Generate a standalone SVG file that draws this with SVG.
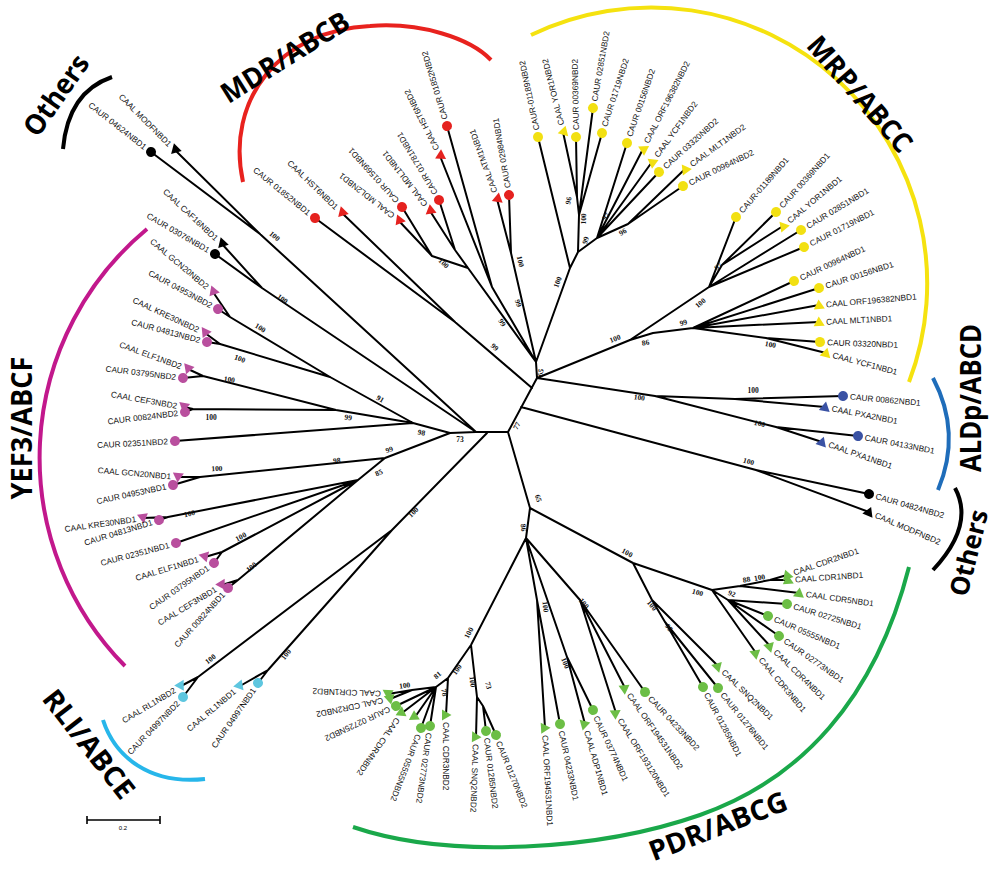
<svg xmlns="http://www.w3.org/2000/svg" xmlns:xlink="http://www.w3.org/1999/xlink" width="1000" height="870" viewBox="0 0 1000 870">
<defs>
<polygon id="tu" points="0,-5.5 5.5,4 -5.5,4"/>
<polygon id="td" points="0,5.5 5.5,-4 -5.5,-4"/>
<style>
.br{fill:none;stroke:#000;stroke-width:2;stroke-linecap:round;stroke-linejoin:round}
.lf text{font-family:"Liberation Sans",Arial,sans-serif;font-size:8.3px;fill:#111}
.fl text{text-anchor:end}
.k{fill:#000}.red{fill:#e5221f}.yel{fill:#f2e012}.blu{fill:#3a52a4}.grn{fill:#6cbe45}.mag{fill:#b94f9e}.cya{fill:#5ec6df}
.bs{font-family:"Liberation Serif","Times New Roman",serif;font-size:7.5px;font-weight:bold;fill:#111;text-anchor:middle}
.grp{font-family:"Open Sans","Liberation Sans",sans-serif;font-weight:bold;font-size:28px;fill:#000;text-anchor:middle}
.arc{fill:none;stroke-width:4}
</style>
</defs>
<rect width="1000" height="870" fill="#fff"/>
<g id="connectors">
<path class="br" d="M508,432 L476,432 L450,433 M508,432 L537,378 L536,362 M508,432 L530,508
M476,432 L260,234 L151,152 M260,234 L175,150
M476,432 L262,288 L222,244 M262,288 L215,254
M450,433 L413,423 L175,441 M413,423 L336,410 L203,376 L188,369 M203,376 L183,378 M336,410 L193,409 L184,407 M193,409 L185,412
M413,423 L330,377 L230,317 L213,292 M230,317 L218,309 M330,377 L220,344 L205,333 M220,344 L207,342
M450,433 L385,458 L200,477 L178,477 M200,477 L173,485 M385,458 L358,480 L168,517 L143,518 M168,517 L159,520 M358,480 L176,543 M358,480 L222,552 L205,557 M222,552 L214,563 M358,480 L238,580 L222,585 M238,580 L228,588
M487,433 L392,530 L198,677 L181,686 M198,677 L183,697 M392,530 L268,670 L240,686 M268,670 L258,683
M532,388 L455,322 L315,218 M455,322 L342,213
M536,362 L468,268 L432,256 L399,221 M432,256 L402,207 M468,268 L455,250 L430,211 M455,250 L439,200
M536,362 L492,287 L440,156 M492,287 L447,126
M536,362 L511,253 L497,199 M511,253 L509,195
M536,362 L570,268 L538,137 M570,268 L578,252 L579,215 L577,197 L563,132 M577,197 L576,137 M579,215 L593,108 M579,215 L602,133 M578,252 L597,238 L627,143 M597,238 L643,149 M597,238 L652,162 M597,238 L659,172 M597,238 L628,224 L685,169 M628,224 L683,186
M537,378 L630,340 L709,287 L736,217 M709,287 L722,265 L776,212 M722,265 L783,226 M709,287 L801,230 M709,287 L804,247
M630,340 L653,333 L693,328 L794,281 M693,328 L819,288 M693,328 L819,305 M693,328 L819,322 M693,328 L766,338 L820,342 M766,338 L826,353
M537,378 L655,396 L735,399 L843,396 M735,399 L825,407 M655,396 L776,427 L858,436 M776,427 L822,442
M521,407 L756,470 L869,494 M756,470 L869,512
M530,508 L633,563 L712,590 L740,586 L770,580 L787,575 M770,580 L788,580 M740,586 L799,593 M712,590 L728,600 L787,604 M728,600 L768,616 M728,600 L779,636 M728,600 L770,646 M712,590 L756,653
M633,563 L652,600 L718,666 M652,600 L665,622 L703,687 M665,622 L718,688
M530,508 L526,538 L471,645 L448,678 L446,715 M448,678 L436,687 L412,690 L388,694 M412,690 L390,699 M436,687 L396,706 M436,687 L402,713 M436,687 L415,717 M436,687 L421,728 M436,687 L430,726
M471,645 L477,697 L476,737 M477,697 L483,706 L486,731 M483,706 L496,735
M526,538 L537,600 L545,728 M537,600 L560,724 M526,538 L567,657 L585,724 M567,657 L593,710 M526,538 L580,600 L616,713 M580,600 L625,688 M580,600 L645,692"/>
</g>
<g id="leaves">
<g id="caur04624nbd1" class="lf fl k" transform="translate(151,152) rotate(38)"><circle r="5"/><text x="-7" y="3">CAUR 04624NBD1</text></g>
<g id="caalmodfnbd1" class="lf fl k" transform="translate(175,150) rotate(45)"><use href="#td"/><text x="-7" y="3">CAAL MODFNBD1</text></g>
<g id="caalcaf16nbd1" class="lf fl k" transform="translate(222,244) rotate(43)"><use href="#td"/><text x="-7" y="3">CAAL CAF16NBD1</text></g>
<g id="caur03076nbd1" class="lf fl k" transform="translate(215,254) rotate(30)"><circle r="5"/><text x="-7" y="3">CAUR 03076NBD1</text></g>
<g id="caalgcn20nbd2" class="lf fl mag" transform="translate(213,292) rotate(40)"><use href="#td"/><text x="-7" y="3">CAAL GCN20NBD2</text></g>
<g id="caur04953nbd2" class="lf fl mag" transform="translate(218,309) rotate(28)"><circle r="5"/><text x="-7" y="3">CAUR 04953NBD2</text></g>
<g id="caalkre30nbd2" class="lf fl mag" transform="translate(205,333) rotate(25)"><use href="#td"/><text x="-7" y="3">CAAL KRE30NBD2</text></g>
<g id="caur04813nbd2" class="lf fl mag" transform="translate(207,342) rotate(15)"><circle r="5"/><text x="-7" y="3">CAUR 04813NBD2</text></g>
<g id="caalelf1nbd2" class="lf fl mag" transform="translate(188,369) rotate(20)"><use href="#td"/><text x="-7" y="3">CAAL ELF1NBD2</text></g>
<g id="caur03795nbd2" class="lf fl mag" transform="translate(183,378) rotate(7)"><circle r="5"/><text x="-7" y="3">CAUR 03795NBD2</text></g>
<g id="caalcef3nbd2" class="lf fl mag" transform="translate(184,407) rotate(10)"><use href="#td"/><text x="-7" y="3">CAAL CEF3NBD2</text></g>
<g id="caur00824nbd2" class="lf fl mag" transform="translate(185,412) rotate(-7)"><circle r="5"/><text x="-7" y="3">CAUR 00824NBD2</text></g>
<g id="caur02351nbd2" class="lf fl mag" transform="translate(175,441) rotate(-3)"><circle r="5"/><text x="-7" y="3">CAUR 02351NBD2</text></g>
<g id="caalgcn20nbd1" class="lf fl mag" transform="translate(178,477) rotate(5)"><use href="#td"/><text x="-7" y="3">CAAL GCN20NBD1</text></g>
<g id="caur04953nbd1" class="lf fl mag" transform="translate(173,485) rotate(-12)"><circle r="5"/><text x="-7" y="3">CAUR 04953NBD1</text></g>
<g id="caalkre30nbd1" class="lf fl mag" transform="translate(143,518) rotate(-8)"><use href="#td"/><text x="-7" y="3">CAAL KRE30NBD1</text></g>
<g id="caur04813nbd1" class="lf fl mag" transform="translate(159,520) rotate(-17)"><circle r="5"/><text x="-7" y="3">CAUR 04813NBD1</text></g>
<g id="caur02351nbd1" class="lf fl mag" transform="translate(176,543) rotate(-15)"><circle r="5"/><text x="-7" y="3">CAUR 02351NBD1</text></g>
<g id="caalelf1nbd1" class="lf fl mag" transform="translate(205,557) rotate(-17)"><use href="#td"/><text x="-7" y="3">CAAL ELF1NBD1</text></g>
<g id="caur03795nbd1" class="lf fl mag" transform="translate(214,563) rotate(-35)"><circle r="5"/><text x="-7" y="3">CAUR 03795NBD1</text></g>
<g id="caalcef3nbd1" class="lf fl mag" transform="translate(222,585) rotate(-31)"><use href="#td"/><text x="-7" y="3">CAAL CEF3NBD1</text></g>
<g id="caur00824nbd1" class="lf fl mag" transform="translate(228,588) rotate(-48)"><circle r="5"/><text x="-7" y="3">CAUR 00824NBD1</text></g>
<g id="caalrl1nbd2" class="lf fl cya" transform="translate(181,686) rotate(-31)"><use href="#td"/><text x="-7" y="3">CAAL RL1NBD2</text></g>
<g id="caur04997nbd2" class="lf fl cya" transform="translate(183,697) rotate(-46)"><circle r="5"/><text x="-7" y="3">CAUR 04997NBD2</text></g>
<g id="caalrl1nbd1" class="lf fl cya" transform="translate(240,686) rotate(-40)"><use href="#td"/><text x="-7" y="3">CAAL RL1NBD1</text></g>
<g id="caur04997nbd1" class="lf fl cya" transform="translate(258,683) rotate(-55)"><circle r="5"/><text x="-7" y="3">CAUR 04997NBD1</text></g>
<g id="caur01852nbd1" class="lf fl red" transform="translate(315,218) rotate(39)"><circle r="5"/><text x="-7" y="3">CAUR 01852NBD1</text></g>
<g id="caalhst6nbd1" class="lf fl red" transform="translate(342,213) rotate(44)"><use href="#td"/><text x="-7" y="3">CAAL HST6NBD1</text></g>
<g id="caalmdl2nbd1" class="lf red" transform="translate(399,221) rotate(-142)"><use href="#tu"/><text x="7" y="3">CAAL MDL2NBD1</text></g>
<g id="caur01569nbd1" class="lf red" transform="translate(402,207) rotate(-132)"><circle r="5"/><text x="7" y="3">CAUR 01569NBD1</text></g>
<g id="caalmdl1nbd1" class="lf red" transform="translate(430,211) rotate(-128)"><use href="#tu"/><text x="7" y="3">CAAL MDL1NBD1</text></g>
<g id="caur01781nbd1" class="lf red" transform="translate(439,200) rotate(-121)"><circle r="5"/><text x="7" y="3">CAUR 01781NBD1</text></g>
<g id="caalhst6nbd2" class="lf red" transform="translate(440,156) rotate(-117)"><use href="#tu"/><text x="7" y="3">CAAL HST6NBD2</text></g>
<g id="caur01852nbd2" class="lf red" transform="translate(447,126) rotate(-107)"><circle r="5"/><text x="7" y="3">CAUR 01852NBD2</text></g>
<g id="caalatm1nbd1" class="lf red" transform="translate(497,199) rotate(-110)"><use href="#tu"/><text x="7" y="3">CAAL ATM1NBD1</text></g>
<g id="caur02984nbd1" class="lf red" transform="translate(509,195) rotate(-100)"><circle r="5"/><text x="7" y="3">CAUR 02984NBD1</text></g>
<g id="caur01189nbd2" class="lf yel" transform="translate(538,137) rotate(-102)"><circle r="5"/><text x="7" y="3">CAUR-01189NBD2</text></g>
<g id="caalyor1nbd2" class="lf yel" transform="translate(563,132) rotate(-104)"><use href="#tu"/><text x="7" y="3">CAAL YOR1NBD2</text></g>
<g id="caur00369nbd2" class="lf yel" transform="translate(576,137) rotate(-91)"><circle r="5"/><text x="7" y="3">CAUR 00369NBD2</text></g>
<g id="caur02851nbd2" class="lf yel" transform="translate(593,108) rotate(-80)"><circle r="5"/><text x="7" y="3">CAUR 02851NBD2</text></g>
<g id="caur01719nbd2" class="lf yel" transform="translate(602,133) rotate(-72)"><circle r="5"/><text x="7" y="3">CAUR 01719NBD2</text></g>
<g id="caur00156nbd2" class="lf yel" transform="translate(627,143) rotate(-71)"><circle r="5"/><text x="7" y="3">CAUR 00156NBD2</text></g>
<g id="caalorf196382nbd2" class="lf yel" transform="translate(643,149) rotate(-63)"><use href="#tu"/><text x="7" y="3">CAAL ORF196382NBD2</text></g>
<g id="caalycf1nbd2" class="lf yel" transform="translate(652,162) rotate(-54)"><use href="#tu"/><text x="7" y="3">CAAL YCF1NBD2</text></g>
<g id="caur03320nbd2" class="lf yel" transform="translate(659,172) rotate(-42)"><circle r="5"/><text x="7" y="3">CAUR 03320NBD2</text></g>
<g id="caalmlt1nbd2" class="lf yel" transform="translate(685,169) rotate(-36)"><use href="#tu"/><text x="7" y="3">CAAL MLT1NBD2</text></g>
<g id="caur00964nbd2" class="lf yel" transform="translate(683,186) rotate(-26)"><circle r="5"/><text x="7" y="3">CAUR 00964NBD2</text></g>
<g id="caur01189nbd1" class="lf yel" transform="translate(736,217) rotate(-49)"><circle r="5"/><text x="7" y="3">CAUR-01189NBD1</text></g>
<g id="caur00369nbd1" class="lf yel" transform="translate(776,212) rotate(-48)"><circle r="5"/><text x="7" y="3">CAUR 00369NBD1</text></g>
<g id="caalyor1nbd1" class="lf yel" transform="translate(783,226) rotate(-40)"><use href="#tu"/><text x="7" y="3">CAAL YOR1NBD1</text></g>
<g id="caur02851nbd1" class="lf yel" transform="translate(801,230) rotate(-31)"><circle r="5"/><text x="7" y="3">CAUR 02851NBD1</text></g>
<g id="caur01719nbd1" class="lf yel" transform="translate(804,247) rotate(-27)"><circle r="5"/><text x="7" y="3">CAUR 01719NBD1</text></g>
<g id="caur00964nbd1" class="lf yel" transform="translate(794,281) rotate(-25)"><circle r="5"/><text x="7" y="3">CAUR 00964NBD1</text></g>
<g id="caur00156nbd1" class="lf yel" transform="translate(819,288) rotate(-18)"><circle r="5"/><text x="7" y="3">CAUR 00156NBD1</text></g>
<g id="caalorf196382nbd1" class="lf yel" transform="translate(819,305) rotate(-5)"><use href="#tu"/><text x="7" y="3">CAAL ORF196382NBD1</text></g>
<g id="caalmlt1nbd1" class="lf yel" transform="translate(819,322) rotate(-3)"><use href="#tu"/><text x="7" y="3">CAAL MLT1NBD1</text></g>
<g id="caur03320nbd1" class="lf yel" transform="translate(820,342) rotate(2)"><circle r="5"/><text x="7" y="3">CAUR 03320NBD1</text></g>
<g id="caalycf1nbd1" class="lf yel" transform="translate(826,353) rotate(15)"><use href="#tu"/><text x="7" y="3">CAAL YCF1NBD1</text></g>
<g id="caur00862nbd1" class="lf blu" transform="translate(843,396) rotate(5)"><circle r="5"/><text x="7" y="3">CAUR 00862NBD1</text></g>
<g id="caalpxa2nbd1" class="lf blu" transform="translate(825,407) rotate(11)"><use href="#tu"/><text x="7" y="3">CAAL PXA2NBD1</text></g>
<g id="caur04133nbd1" class="lf blu" transform="translate(858,436) rotate(11)"><circle r="5"/><text x="7" y="3">CAUR 04133NBD1</text></g>
<g id="caalpxa1nbd1" class="lf blu" transform="translate(822,442) rotate(19)"><use href="#tu"/><text x="7" y="3">CAAL PXA1NBD1</text></g>
<g id="caur04824nbd2" class="lf k" transform="translate(869,494) rotate(16)"><circle r="5"/><text x="7" y="3">CAUR 04824NBD2</text></g>
<g id="caalmodfnbd2" class="lf k" transform="translate(869,512) rotate(23)"><use href="#tu"/><text x="7" y="3">CAAL MODFNBD2</text></g>
<g id="caalcdr2nbd1" class="lf grn" transform="translate(787,575) rotate(-19)"><use href="#tu"/><text x="7" y="3">CAAL CDR2NBD1</text></g>
<g id="caalcdr1nbd1" class="lf grn" transform="translate(788,580) rotate(-4)"><use href="#tu"/><text x="7" y="3">CAAL CDR1NBD1</text></g>
<g id="caalcdr5nbd1" class="lf grn" transform="translate(799,593) rotate(8)"><use href="#tu"/><text x="7" y="3">CAAL CDR5NBD1</text></g>
<g id="caur02725nbd1" class="lf grn" transform="translate(787,604) rotate(17)"><circle r="5"/><text x="7" y="3">CAUR 02725NBD1</text></g>
<g id="caur05555nbd1" class="lf grn" transform="translate(768,616) rotate(23)"><circle r="5"/><text x="7" y="3">CAUR 05555NBD1</text></g>
<g id="caur02773nbd1" class="lf grn" transform="translate(779,636) rotate(35)"><circle r="5"/><text x="7" y="3">CAUR 02773NBD1</text></g>
<g id="caalcdr4nbd1" class="lf grn" transform="translate(770,646) rotate(44)"><use href="#tu"/><text x="7" y="3">CAAL CDR4NBD1</text></g>
<g id="caalcdr3nbd1" class="lf grn" transform="translate(756,653) rotate(50)"><use href="#tu"/><text x="7" y="3">CAAL CDR3NBD1</text></g>
<g id="caalsnq2nbd1" class="lf grn" transform="translate(718,666) rotate(44)"><use href="#tu"/><text x="7" y="3">CAAL SNQ2NBD1</text></g>
<g id="caur01276nbd1" class="lf grn" transform="translate(718,688) rotate(51)"><circle r="5"/><text x="7" y="3">CAUR 01276NBD1</text></g>
<g id="caur01285nbd1" class="lf grn" transform="translate(703,687) rotate(62)"><circle r="5"/><text x="7" y="3">CAUR 01285NBD1</text></g>
<g id="caur04233nbd2" class="lf grn" transform="translate(645,692) rotate(47)"><circle r="5"/><text x="7" y="3">CAUR 04233NBD2</text></g>
<g id="caalorf194531nbd2" class="lf grn" transform="translate(625,688) rotate(55)"><use href="#tu"/><text x="7" y="3">CAAL ORF194531NBD2</text></g>
<g id="caalorf193120nbd1" class="lf grn" transform="translate(616,713) rotate(58)"><use href="#tu"/><text x="7" y="3">CAAL ORF193120NBD1</text></g>
<g id="caur03774nbd1" class="lf grn" transform="translate(593,710) rotate(65)"><circle r="5"/><text x="7" y="3">CAUR 03774NBD1</text></g>
<g id="caaladp1nbd1" class="lf grn" transform="translate(585,724) rotate(74)"><use href="#tu"/><text x="7" y="3">CAAL ADP1NBD1</text></g>
<g id="caur04233nbd1" class="lf grn" transform="translate(560,724) rotate(78)"><circle r="5"/><text x="7" y="3">CAUR 04233NBD1</text></g>
<g id="caalorf194531nbd1" class="lf grn" transform="translate(545,728) rotate(87)"><use href="#tu"/><text x="7" y="3">CAAL ORF194531NBD1</text></g>
<g id="caur01270nbd2" class="lf grn" transform="translate(496,735) rotate(68)"><circle r="5"/><text x="7" y="3">CAUR 01270NBD2</text></g>
<g id="caur01285nbd2" class="lf grn" transform="translate(486,731) rotate(83)"><circle r="5"/><text x="7" y="3">CAUR 01285NBD2</text></g>
<g id="caalsnq2nbd2" class="lf grn" transform="translate(476,737) rotate(92)"><use href="#tu"/><text x="7" y="3">CAAL SNQ2NBD2</text></g>
<g id="caalcdr3nbd2" class="lf grn" transform="translate(446,715) rotate(90)"><use href="#tu"/><text x="7" y="3">CAAL CDR3NBD2</text></g>
<g id="caur02773nbd2" class="lf grn" transform="translate(430,726) rotate(98)"><circle r="5"/><text x="7" y="3">CAUR 02773NBD2</text></g>
<g id="caur05555nbd2" class="lf grn" transform="translate(421,728) rotate(111)"><circle r="5"/><text x="7" y="3">CAUR 05555NBD2</text></g>
<g id="caalx_nbd2" class="lf grn" transform="translate(415,717) rotate(118)"><use href="#tu"/></g>
<g id="caalcdr4nbd2" class="lf grn" transform="translate(402,713) rotate(125)"><use href="#tu"/><text x="7" y="3">CAAL CDR4NBD2</text></g>
<g id="caur02725nbd2" class="lf grn" transform="translate(396,706) rotate(155)"><circle r="5"/><text x="7" y="3">CAUR 02725NBD2</text></g>
<g id="caalcdr2nbd2" class="lf grn" transform="translate(390,699) rotate(168)"><use href="#tu"/><text x="7" y="3">CAAL CDR2NBD2</text></g>
<g id="caalcdr1nbd2" class="lf grn" transform="translate(388,694) rotate(182)"><use href="#tu"/><text x="7" y="3">CAAL CDR1NBD2</text></g>
</g>
<g id="bootstrap">
<text class="bs" transform="translate(273,238) rotate(40)">100</text>
<text class="bs" transform="translate(281,301) rotate(35)">100</text>
<text class="bs" transform="translate(259,330) rotate(31)">100</text>
<text class="bs" transform="translate(239,361) rotate(20)">100</text>
<text class="bs" transform="translate(229,382) rotate(8)">100</text>
<text class="bs" transform="translate(211,420) rotate(0)">100</text>
<text class="bs" transform="translate(379,401) rotate(30)">91</text>
<text class="bs" transform="translate(348,420) rotate(6)">99</text>
<text class="bs" transform="translate(421,435) rotate(12)">98</text>
<text class="bs" transform="translate(460,442) rotate(0)">73</text>
<text class="bs" transform="translate(519,427) rotate(-62)">77</text>
<text class="bs" transform="translate(337,463) rotate(-5)">98</text>
<text class="bs" transform="translate(390,452) rotate(-18)">99</text>
<text class="bs" transform="translate(380,475) rotate(-25)">85</text>
<text class="bs" transform="translate(217,471) rotate(-3)">100</text>
<text class="bs" transform="translate(190,516) rotate(-12)">100</text>
<text class="bs" transform="translate(242,539) rotate(-28)">100</text>
<text class="bs" transform="translate(253,569) rotate(-40)">100</text>
<text class="bs" transform="translate(415,514) rotate(-44)">100</text>
<text class="bs" transform="translate(212,661) rotate(-38)">100</text>
<text class="bs" transform="translate(288,656) rotate(-52)">100</text>
<text class="bs" transform="translate(493,349) rotate(42)">99</text>
<text class="bs" transform="translate(500,324) rotate(58)">99</text>
<text class="bs" transform="translate(516,304) rotate(70)">99</text>
<text class="bs" transform="translate(518,262) rotate(78)">100</text>
<text class="bs" transform="translate(442,265) rotate(45)">100</text>
<text class="bs" transform="translate(560,283) rotate(-70)">100</text>
<text class="bs" transform="translate(588,241) rotate(-75)">99</text>
<text class="bs" transform="translate(586,219) rotate(-88)">100</text>
<text class="bs" transform="translate(571,201) rotate(-80)">96</text>
<text class="bs" transform="translate(608,218) rotate(-55)">97</text>
<text class="bs" transform="translate(624,234) rotate(-30)">96</text>
<text class="bs" transform="translate(616,341) rotate(-22)">100</text>
<text class="bs" transform="translate(646,345) rotate(-10)">86</text>
<text class="bs" transform="translate(720,268) rotate(-45)">97</text>
<text class="bs" transform="translate(702,305) rotate(-40)">100</text>
<text class="bs" transform="translate(684,325) rotate(-15)">99</text>
<text class="bs" transform="translate(770,347) rotate(10)">100</text>
<text class="bs" transform="translate(543,373) rotate(-80)">65</text>
<text class="bs" transform="translate(639,400) rotate(8)">100</text>
<text class="bs" transform="translate(753,393) rotate(0)">100</text>
<text class="bs" transform="translate(759,426) rotate(14)">100</text>
<text class="bs" transform="translate(748,464) rotate(15)">100</text>
<text class="bs" transform="translate(536,499) rotate(72)">65</text>
<text class="bs" transform="translate(521,528) rotate(82)">86</text>
<text class="bs" transform="translate(626,555) rotate(28)">100</text>
<text class="bs" transform="translate(697,595) rotate(15)">100</text>
<text class="bs" transform="translate(747,582) rotate(-10)">88</text>
<text class="bs" transform="translate(760,580) rotate(-10)">100</text>
<text class="bs" transform="translate(731,596) rotate(20)">92</text>
<text class="bs" transform="translate(650,607) rotate(50)">100</text>
<text class="bs" transform="translate(667,629) rotate(55)">95</text>
<text class="bs" transform="translate(471,634) rotate(-62)">100</text>
<text class="bs" transform="translate(439,677) rotate(-40)">81</text>
<text class="bs" transform="translate(442,693) rotate(80)">78</text>
<text class="bs" transform="translate(405,688) rotate(-8)">100</text>
<text class="bs" transform="translate(459,671) rotate(-55)">100</text>
<text class="bs" transform="translate(470,682) rotate(85)">100</text>
<text class="bs" transform="translate(486,686) rotate(75)">73</text>
<text class="bs" transform="translate(543,607) rotate(85)">100</text>
<text class="bs" transform="translate(563,664) rotate(68)">100</text>
<text class="bs" transform="translate(582,605) rotate(50)">100</text>
</g>
<g id="groups">
<path class="arc" stroke="#000" d="M112,77 Q68,92 63,149"/>
<path class="arc" stroke="#e8221e" d="M243,182 C225,100 280,30 370,26 C420,22 470,38 491,60"/>
<path class="arc" stroke="#f5e20f" d="M531,35 A276,276 0 0 1 909,382"/>
<path class="arc" stroke="#1f6dba" d="M933,378 Q962,433 938,490"/>
<path class="arc" stroke="#000" d="M955,488 Q975,525 933,570"/>
<path class="arc" stroke="#1aa84a" d="M353,827 C450,860 600,850 700,815 C800,780 875,700 909,567"/>
<path class="arc" stroke="#c2188c" d="M147,229 A297,297 0 0 0 125,666"/>
<path class="arc" stroke="#27b6ea" d="M103,720 C115,757 150,785 205,779"/>
<text class="grp" transform="translate(56,95) rotate(-55)" y="10" textLength="92" lengthAdjust="spacingAndGlyphs">Others</text>
<text class="grp" transform="translate(285,57) rotate(-32)" y="10" textLength="146" lengthAdjust="spacingAndGlyphs">MDR/ABCB</text>
<text class="grp" transform="translate(860,94) rotate(49)" y="10" textLength="144" lengthAdjust="spacingAndGlyphs">MRP/ABCC</text>
<text class="grp" transform="translate(971,398) rotate(-90)" y="10" textLength="148" lengthAdjust="spacingAndGlyphs">ALDp/ABCD</text>
<text class="grp" style="font-size:26px" transform="translate(969,553) rotate(-76)" y="9" textLength="88" lengthAdjust="spacingAndGlyphs">Others</text>
<text class="grp" transform="translate(718,826) rotate(-21)" y="10" textLength="146" lengthAdjust="spacingAndGlyphs">PDR/ABCG</text>
<text class="grp" transform="translate(22,428) rotate(-90)" y="10" textLength="143" lengthAdjust="spacingAndGlyphs">YEF3/ABCF</text>
<text class="grp" transform="translate(89,744) rotate(52)" y="10" textLength="130" lengthAdjust="spacingAndGlyphs">RLI/ABCE</text>
</g>
<g id="scale">
<path d="M87,820 H160 M87,816 V824 M160,816 V824" fill="none" stroke="#000" stroke-width="1.6"/>
<text x="123" y="830" font-family="Liberation Sans, Arial, sans-serif" font-size="6" text-anchor="middle">0.2</text>
</g>
</svg>
